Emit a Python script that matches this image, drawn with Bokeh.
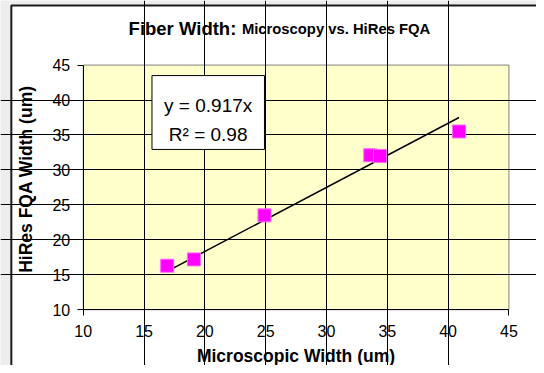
import math
from bokeh.plotting import figure
from bokeh.models import Label, BoxAnnotation, FixedTicker, Range1d
from bokeh.embed import file_html
from bokeh.resources import INLINE

# ---- data ----
microscopic_width = [16.9, 19.1, 24.9, 33.6, 34.4, 40.9]
hires_fqa_width = [16.3, 17.2, 23.5, 32.1, 32.0, 35.5]
trend_slope = 0.917
r_squared = 0.98
x_ticks = [10, 15, 20, 25, 30, 35, 40, 45]
y_ticks = [10, 15, 20, 25, 30, 35, 40, 45]

FONT = "Liberation Sans"

# ---- layout (pixels on the canvas) ----
W, H = 536, 365
KX, KY = W / 544, H / 373          # reference-pixel -> canvas-pixel factors
PA_LEFT, PA_RIGHT = 84 * KX, 516 * KX
PA_TOP, PA_BOTTOM = 66 * KY, 316 * KY
xmin, xmax = x_ticks[0], x_ticks[-1]
ymin, ymax = y_ticks[0], y_ticks[-1]
sx = (PA_RIGHT - PA_LEFT) / (xmax - xmin)
sy = (PA_BOTTOM - PA_TOP) / (ymax - ymin)
x_lo = xmin - PA_LEFT / sx
x_hi = x_lo + W / sx
y_hi = ymax + PA_TOP / sy
y_lo = y_hi - H / sy

def cx(px):  # reference px -> data x
    return x_lo + px * KX / sx

def cy(py):  # reference px (from top) -> data y
    return y_hi - py * KY / sy

p = figure(
    width=W, height=H, min_border=0,
    x_range=Range1d(x_lo, x_hi), y_range=Range1d(y_lo, y_hi),
    output_backend="svg", toolbar_location=None,
)
p.title.visible = False
p.background_fill_color = "#EDEDED"
p.border_fill_color = "white"
p.outline_line_color = None

# chart area (white, dark border)
p.add_layout(BoxAnnotation(left=cx(11), right=cx(600), top=cy(5), bottom=cy(420),
                           fill_color="white", fill_alpha=1.0,
                           line_color="#1A1A1A", line_width=2, line_alpha=1.0,
                           level="image"))
# plot area (pale yellow, grey border)
p.add_layout(BoxAnnotation(left=xmin, right=xmax, bottom=ymin, top=ymax,
                           fill_color="#FFFFCC", fill_alpha=1.0,
                           line_color="#808080", line_width=1, line_alpha=1.0,
                           level="image"))

for ax, ticks in ((p.xaxis[0], x_ticks), (p.yaxis[0], y_ticks)):
    ax.ticker = FixedTicker(ticks=ticks)
    ax.major_tick_out = 6
    ax.major_tick_in = 0
    ax.minor_tick_out = 0
    ax.minor_tick_in = 0
    ax.axis_line_color = "black"
    ax.major_tick_line_color = "black"
    ax.major_label_text_font = FONT
    ax.major_label_text_font_size = "16px"
    ax.major_label_text_color = "black"
    ax.axis_label_text_font = FONT
    ax.axis_label_text_font_style = "bold"
    ax.axis_label_text_font_size = "17.5px"
    ax.axis_label_text_color = "black"

p.xaxis.fixed_location = ymin
p.yaxis.fixed_location = xmin
p.xaxis.bounds = (xmin, xmax)
p.yaxis.bounds = (ymin, ymax)
p.xaxis.axis_label = "Microscopic Width (um)"
p.xaxis.major_label_standoff = 9
p.yaxis.major_label_standoff = 7
p.xaxis.axis_label_standoff = 6

p.xgrid.ticker = FixedTicker(ticks=x_ticks[1:-1])
p.ygrid.ticker = FixedTicker(ticks=y_ticks[1:-1])
p.xgrid.bounds = (ymin, ymax)
p.ygrid.bounds = (xmin, xmax)
p.grid.grid_line_color = "black"
p.grid.grid_line_width = 1

# trend line (through the origin) over the data's x extent
x0, x1 = min(microscopic_width), max(microscopic_width)
p.line([x0, x1], [trend_slope * x0, trend_slope * x1], line_color="black", line_width=1.5)

# data markers
p.scatter(microscopic_width, hires_fqa_width, marker="square", size=13,
          fill_color="#FF00FF", line_color="#FF66FF", line_width=1)

# equation box
p.add_layout(BoxAnnotation(left=15.65, right=24.9, bottom=32.93, top=43.5,
                           fill_color="white", fill_alpha=1.0,
                           line_color="black", line_width=1, line_alpha=1.0))
p.add_layout(Label(x=20.27, y=39.15, text="y = %.3fx" % trend_slope,
                   text_align="center", text_baseline="alphabetic",
                   text_font=FONT, text_font_size="19px", text_color="black"))
p.add_layout(Label(x=20.27, y=35.1, text="R² = %.2f" % r_squared,
                   text_align="center", text_baseline="alphabetic",
                   text_font=FONT, text_font_size="19px", text_color="black"))

# y axis title (rotated)
p.add_layout(Label(x=cx(25.5), y=cy(180), angle=math.pi / 2,
                   text="HiRes  FQA Width (um)",
                   text_align="center", text_baseline="middle",
                   text_font=FONT, text_font_style="bold",
                   text_font_size="17.5px", text_color="black"))

# chart title (two sizes)
p.add_layout(Label(x=cx(130), y=cy(29), text="Fiber Width:",
                   text_align="left", text_baseline="alphabetic",
                   text_font=FONT, text_font_style="bold",
                   text_font_size="18.5px", text_color="black"))
p.add_layout(Label(x=cx(245), y=cy(29), text="Microscopy vs. HiRes FQA",
                   text_align="left", text_baseline="alphabetic",
                   text_font=FONT, text_font_style="bold",
                   text_font_size="14.8px", text_color="black"))

open("out.html", "w").write(file_html(p, INLINE))
